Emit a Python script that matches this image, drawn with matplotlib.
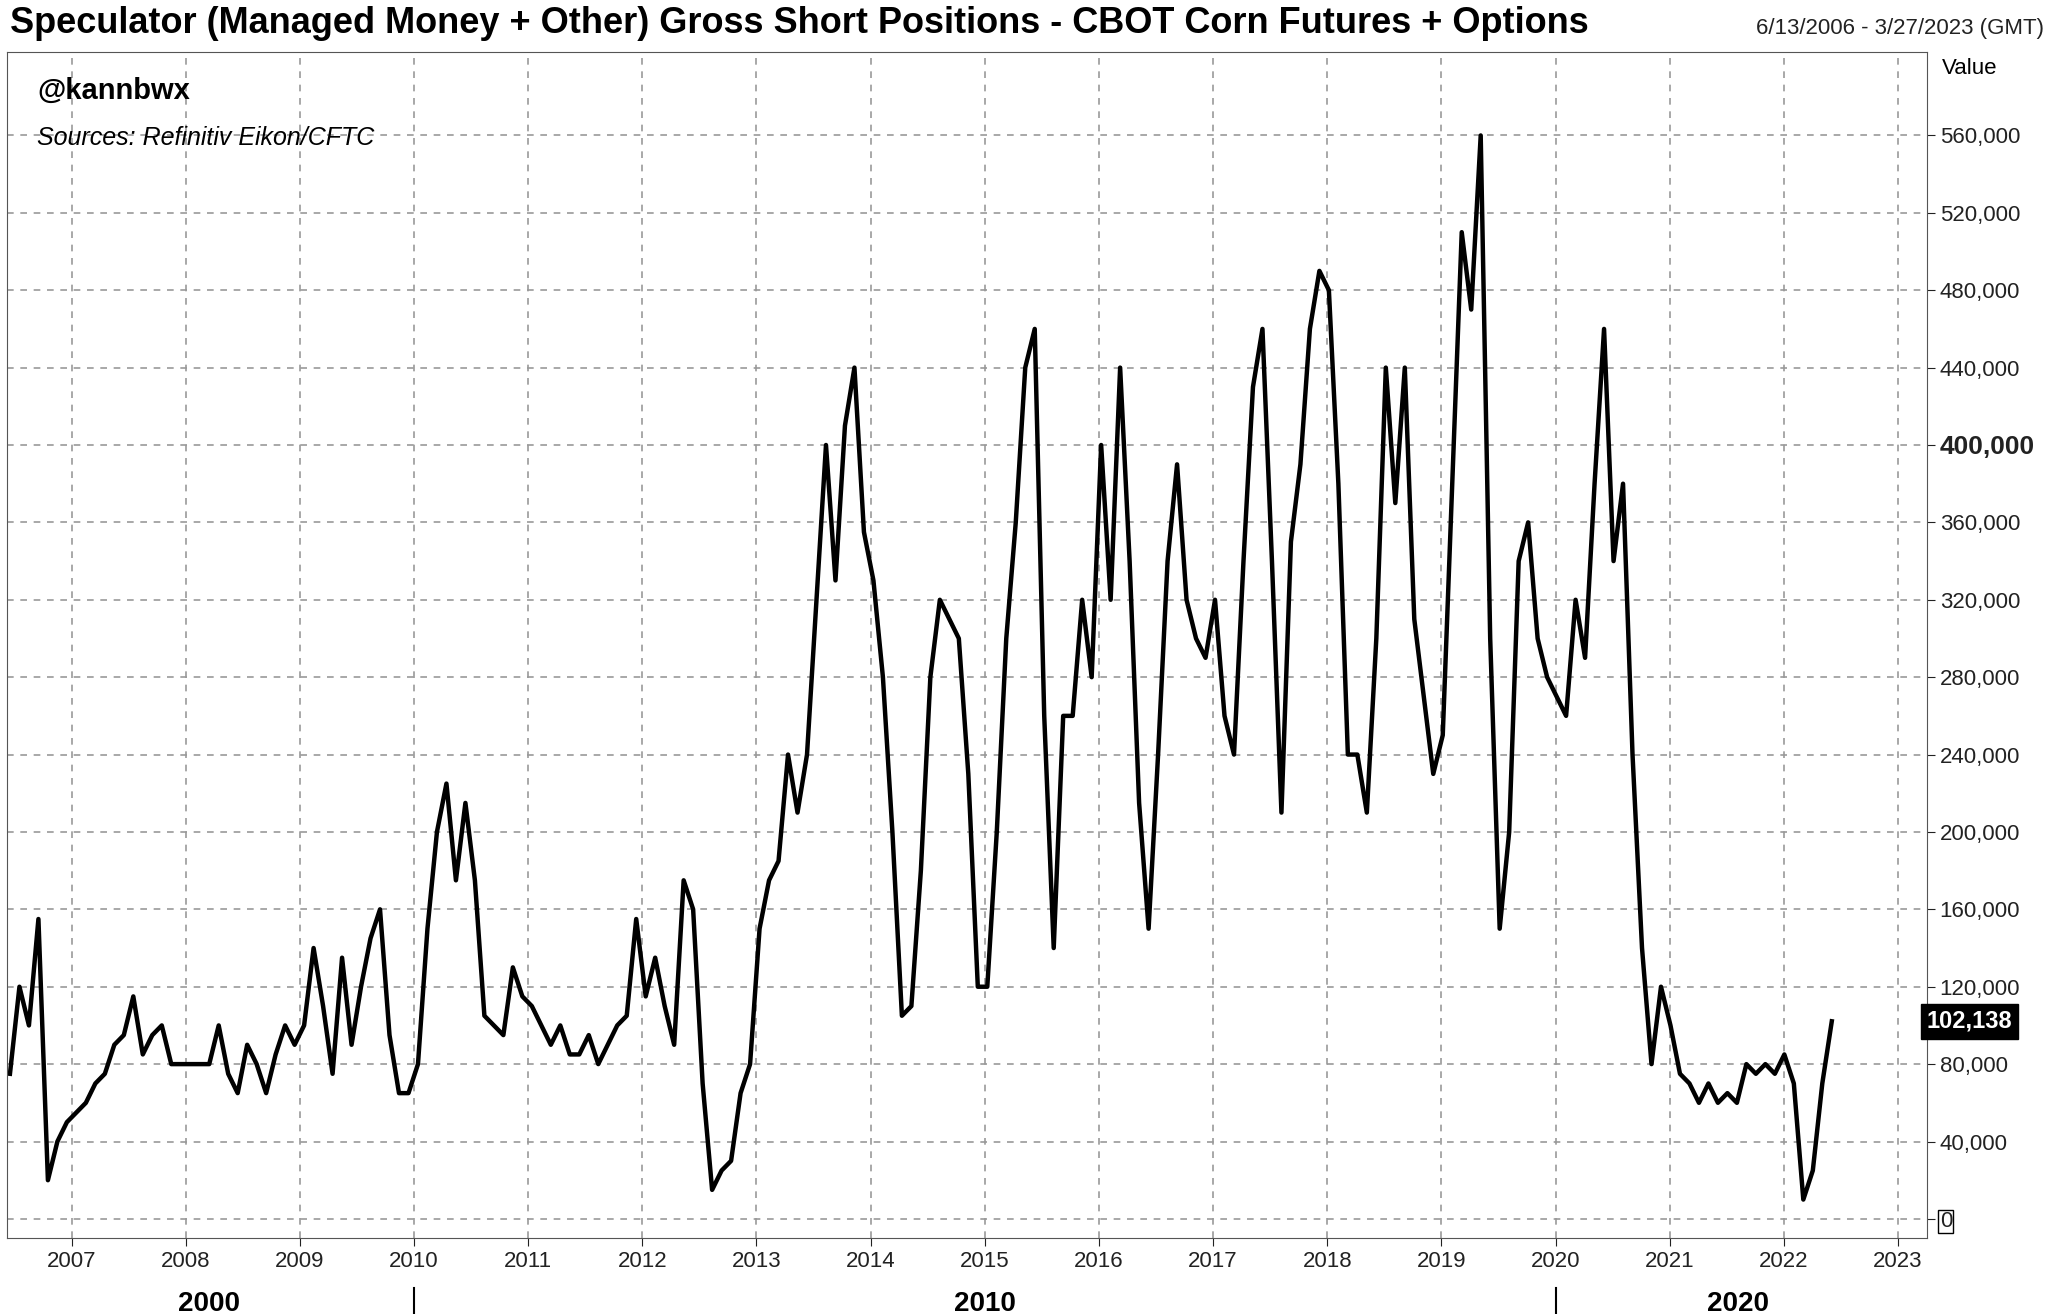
# CBOT corn speculator gross shorts, recreated

import numpy as np
import matplotlib.pyplot as plt

plt.rcParams["font.family"] = ["Liberation Sans", "DejaVu Sans"]

# Data (thousand contracts, roughly monthly from mid-2006)
values_k = [75, 120, 100, 155, 20, 40, 50, 55, 60, 70, 75, 90, 95, 115, 85, 95, 100, 80, 80, 80,
            80, 80, 100, 75, 65, 90, 80, 65, 85, 100, 90, 100, 140, 110, 75, 135, 90, 120, 145, 160,
            95, 65, 65, 80, 150, 200, 225, 175, 215, 175, 105, 100, 95, 130, 115, 110, 100, 90, 100, 85,
            85, 95, 80, 90, 100, 105, 155, 115, 135, 110, 90, 175, 160, 70, 15, 25, 30, 65, 80, 150,
            175, 185, 240, 210, 240, 320, 400, 330, 410, 440, 355, 330, 280, 200, 105, 110, 180, 280, 320, 310,
            300, 230, 120, 120, 200, 300, 360, 440, 460, 260, 140, 260, 260, 320, 280, 400, 320, 440, 340, 215,
            150, 240, 340, 390, 320, 300, 290, 320, 260, 240, 340, 430, 460, 340, 210, 350, 390, 460, 490, 480,
            380, 240, 240, 210, 300, 440, 370, 440, 310, 270, 230, 250, 380, 510, 470, 560, 300, 150, 200, 340,
            360, 300, 280, 270, 260, 320, 290, 380, 460, 340, 380, 240, 140, 80, 120, 100, 75, 70, 60, 70,
            60, 65, 60, 80, 75, 80, 75, 85, 70, 10, 25, 70, 102.138]
year_ticks = list(range(2007, 2024))
era_labels = ["2000", "2010", "2020"]
era_pos = [2008.2, 2015.0, 2021.6]
era_breaks = [2010.0, 2020.0]

vals = np.array(values_k) * 1000
x = np.linspace(2006.46, 2022.42, len(vals))

fig = plt.figure(figsize=(20.48, 13.14), dpi=100)
ax = fig.add_axes([5/1568, 1 - 948/1006, 1470/1568, 908/1006])
ax.plot(x, vals, color="black", lw=3.2)

ax.set_xlim(2006.43, 2023.25)
ax.set_ylim(-10000, 603000)
ax.set_xticks(year_ticks)
ax.set_xticklabels([str(y) for y in year_ticks], fontsize=16)
yt = list(range(0, 560001, 40000))
ax.yaxis.tick_right()
ax.set_yticks(yt)
ax.set_yticklabels(["0" if v == 0 else f"{v:,}" for v in yt], fontsize=16)
for lab in ax.get_yticklabels():
    if lab.get_text() == "400,000":
        lab.set_fontweight("bold")
        lab.set_fontsize(19)
    if lab.get_text() == "0":
        lab.set_bbox(dict(facecolor="white", edgecolor="black", pad=1))
ax.grid(True, color="#999999", ls=(0, (4, 4)), lw=1.2)
ax.tick_params(length=6, colors="#222222")
for s in ax.spines.values():
    s.set_color("#555555")

# last value tag
ax.text(1.0, vals[-1], f"{vals[-1]:,.0f}", transform=ax.get_yaxis_transform(),
        color="white", fontsize=17, fontweight="bold", va="center", ha="left",
        bbox=dict(facecolor="black", edgecolor="black", boxstyle="square,pad=0.25"))
for e, p in zip(era_labels, era_pos):
    ax.text(p, -0.0555, e, transform=ax.get_xaxis_transform(), fontsize=20, fontweight="bold",
            ha="center", va="center")
for b in era_breaks:
    ax.plot([b, b], [-0.042, -0.07], transform=ax.get_xaxis_transform(), color="black", lw=1.5, clip_on=False)

fig.text(8/1568, 1 - 18/1006, "Speculator (Managed Money + Other) Gross Short Positions - CBOT Corn Futures + Options",
         fontsize=26, fontweight="bold", va="center", ha="left")
fig.text(1565/1568, 1 - 22/1006, "6/13/2006 - 3/27/2023 (GMT)", fontsize=16, va="center", ha="right", color="#222222")
ax.text(1.008, 0.986, "Value", transform=ax.transAxes, fontsize=16, va="center", ha="left")
ax.text(0.016, 0.967, "@kannbwx", transform=ax.transAxes, fontsize=21, fontweight="bold", va="center")
ax.text(0.016, 0.928, "Sources: Refinitiv Eikon/CFTC", transform=ax.transAxes, fontsize=18, style="italic", va="center")

fig.savefig("out.png", dpi=100)
